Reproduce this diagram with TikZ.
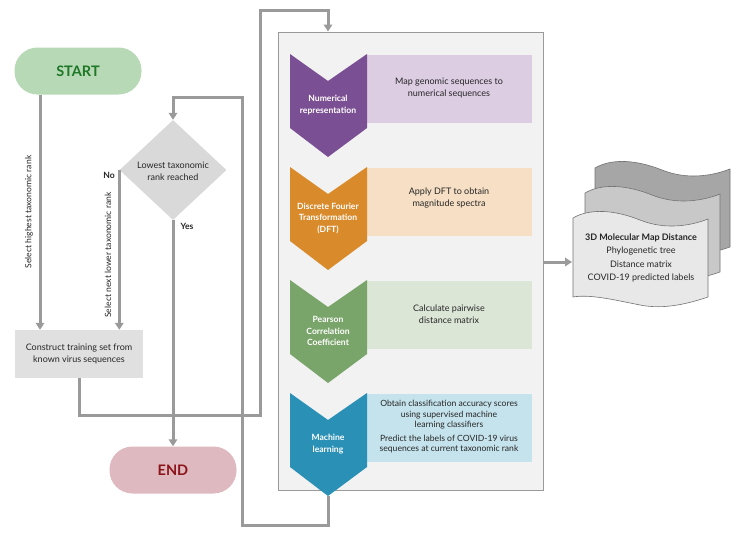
\documentclass[tikz,border=0pt]{standalone}
\usepackage{fontspec}
\setmainfont{Lato}
\usetikzlibrary{shapes.geometric,arrows.meta}
\definecolor{ln}{HTML}{9A9A9A}
\begin{document}
\begin{tikzpicture}[x=1pt,y=-1pt,
  conn/.style={draw=ln,line width=3pt,-{Triangle[length=7pt,width=8.5pt]}},
  term/.style={rounded corners=23pt,minimum width=127pt,minimum height=47pt,font=\bfseries\fontsize{14.5}{16}\selectfont},
  body/.style={font=\fontsize{9}{11.5}\selectfont,align=center,text=black!85},
  chev/.style={font=\bfseries\fontsize{8.6}{11.5}\selectfont,align=center,text=white},
  lbl/.style={font=\fontsize{8.6}{10}\selectfont,text=black!85},
  page/.style={draw=black!55,line width=0.6pt}]
\useasboundingbox (0,0) rectangle (750,539);
% panel
\node[draw=ln,line width=1pt,fill=black!5,minimum width=265pt,minimum height=458pt,inner sep=0pt] (panel) at (410.5,261) {};
% terminals
\node[term,fill={rgb,255:red,183;green,217;blue,181},text={rgb,255:red,30;green,120;blue,40}] (start) at (78,71) {START};
\node[term,fill={rgb,255:red,222;green,185;blue,192},text={rgb,255:red,140;green,20;blue,25}] (end) at (173,470) {END};
\node[diamond,fill={rgb,255:red,217;green,217;blue,217},minimum width=107pt,minimum height=100pt,inner sep=0pt,aspect=1.07] (dec) at (173,170) {};
\node[body] (dect) at (173,171) {Lowest taxonomic\\rank reached};
\node[fill={rgb,255:red,224;green,224;blue,224},minimum width=128pt,minimum height=48pt,body] (cons) at (79,354) {Construct training set from\\known virus sequences};
% steps
\foreach \i/\y/\c/\b in {1/0/{123,79,147}/{220,205,227},2/113/{217,138,42}/{246,223,196},3/226/{122,165,106}/{220,230,214},4/339/{42,144,181}/{197,227,236}}{
  \definecolor{cc}{RGB}{\c}\definecolor{bb}{RGB}{\b}
  \fill[bb] (367,55+\y) rectangle (532,123+\y);
  \fill[cc] (290,54+\y) -- (328,81+\y) -- (367,54+\y) -- (367,128+\y) -- (328,157+\y) coordinate (tip\i) -- (290,128+\y) -- cycle;
}
\node[chev] (s1) at (328,105) {Numerical\\representation};
\node[chev] (s2) at (328,218) {Discrete Fourier\\Transformation\\(DFT)};
\node[chev] (s3) at (328,331) {Pearson\\Correlation\\Coefficient};
\node[chev] (s4) at (328,444) {Machine\\learning};
\node[body] (t1) at (449,88) {Map genomic sequences to\\numerical sequences};
\node[body] (t2) at (449,198) {Apply DFT to obtain\\magnitude spectra};
\node[body] (t3) at (449,314) {Calculate pairwise\\distance matrix};
\node[body,font=\fontsize{8.6}{10.5}\selectfont] (t4) at (449,427) {Obtain classification accuracy scores\\using supervised machine\\learning classifiers\\[3pt]Predict the labels of COVID-19 virus\\sequences at current taxonomic rank};
% documents
\foreach \dx/\dy/\f in {22/-50/166,12/-25/200,0/0/232}{
  \definecolor{pf}{RGB}{\f,\f,\f}
  \begin{scope}[shift={(\dx,\dy)}]
  \draw[page,fill=pf] (573,218) .. controls (590,208) and (615,210) .. (640,220) .. controls (665,230) and (690,226) .. (708,219) -- (708,297) .. controls (690,303) and (665,310) .. (640,305) .. controls (615,300) and (590,294) .. (573,297) -- cycle;
  \end{scope}
}
\node[body,font=\fontsize{9}{13.5}\selectfont] (doc) at (641,258) {\textbf{3D Molecular Map Distance}\\Phylogenetic tree\\Distance matrix\\COVID-19 predicted labels};
\coordinate (docin) at (572,262);
% connectors
\draw[conn] (start.south -| 40,0) -- (cons.north -| 40,0);
\node[lbl,rotate=90] at (29,212) {Select highest taxonomic rank};
\draw[conn] (dec.west) -- (dec.west |- cons.north);
\node[lbl,rotate=90] at (108,255) {Select next lower taxonomic rank};
\node[lbl,font=\bfseries\fontsize{8.6}{10}\selectfont] at (109,175) {No};
\draw[conn] (dec.south) -- (end.north);
\node[lbl,font=\bfseries\fontsize{8.6}{10}\selectfont] at (187,226) {Yes};
\coordinate (a1) at (79,415); \coordinate (a2) at (260,415); \coordinate (a3) at (260,10); \coordinate (a4) at (328,10);
\draw[conn] (cons.south) -- (a1) -- (a2) -- (a3) -- (a4) -- (panel.north -| a4);
\coordinate (b1) at (328,525); \coordinate (b2) at (242,525); \coordinate (b3) at (242,97); \coordinate (b4) at (173,97);
\draw[conn] (tip4) -- (b1) -- (b2) -- (b3) -- (b4) -- (dec.north);
\draw[conn] (panel.east |- docin) -- (docin);
\end{tikzpicture}
\end{document}
